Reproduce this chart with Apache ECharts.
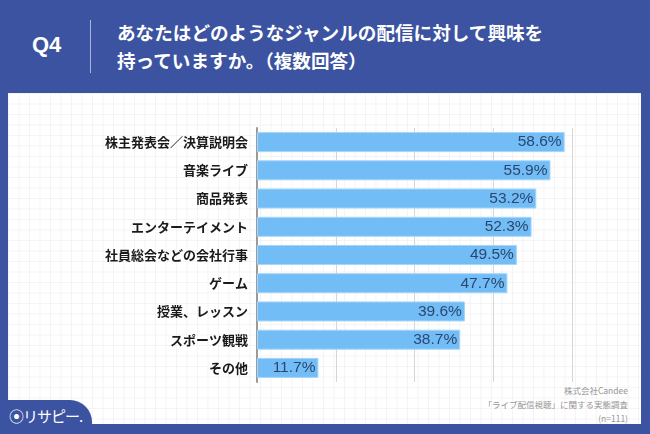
<!DOCTYPE html>
<html>
<head>
<meta charset="utf-8">
<script src="https://cdn.jsdelivr.net/npm/echarts@6/dist/echarts.min.js"></script>
<style>
html,body{margin:0;padding:0;width:650px;height:434px;overflow:hidden;background:#3b53a0;font-family:"Noto Sans CJK JP","Noto Sans",sans-serif;}
#panel{position:absolute;left:8px;top:93px;width:633px;height:331px;background-color:#fff;
background-image:linear-gradient(#f4f4f4 1px,transparent 1px),linear-gradient(90deg,#f4f4f4 1px,transparent 1px);
background-size:10.5px 10.5px;}
#q{position:absolute;left:32px;top:32px;color:#fff;font:bold 22px "Liberation Sans","Noto Sans",sans-serif;}
#div{position:absolute;left:90px;top:20px;width:1px;height:53px;background:#a8b4d8;}
#title{position:absolute;left:117px;top:18px;color:#fff;font-weight:bold;font-size:18.6px;line-height:28px;letter-spacing:0;}
#logo{position:absolute;left:0;top:400px;width:92px;height:34px;background:#3b53a0;border-top-right-radius:22px;}
#logotxt{position:absolute;left:9px;top:405px;color:#fff;font-size:15px;letter-spacing:-1px;}
#src{position:absolute;right:22px;top:383px;color:#959595;font-size:8.5px;line-height:14px;text-align:right;}
#chart{position:absolute;left:0;top:0;width:650px;height:434px;}
</style>
</head>
<body>
<div id="panel"></div>
<div id="q">Q4</div>
<div id="div"></div>
<div id="title">あなたはどのようなジャンルの配信に対して興味を<br>持っていますか。（複数回答）</div>
<div id="src">株式会社Candee<br>「ライブ配信視聴」に関する実態調査<br>(n=111)</div>
<div id="logo"></div>
<div id="logotxt">⦿リサピー.</div>
<div id="chart"></div>
<script>
const categories = ["株主発表会／決算説明会","音楽ライブ","商品発表","エンターテイメント","社員総会などの会社行事","ゲーム","授業、レッスン","スポーツ観戦","その他"];
const values = [58.6,55.9,53.2,52.3,49.5,47.7,39.6,38.7,11.7];
const chart = echarts.init(document.getElementById('chart'));
chart.setOption({
  animation:false,
  grid:{left:257,right:78,top:128,bottom:52},
  xAxis:{type:'value',min:0,max:60,interval:15,axisLabel:{show:false},axisLine:{show:false},axisTick:{show:false},
    splitLine:{lineStyle:{color:'#d6d6d6',width:1}}},
  yAxis:{type:'category',data:categories,inverse:true,
    axisLine:{lineStyle:{color:'#9a9a9a',width:2}},axisTick:{show:false},
    axisLabel:{color:'#1a1a1a',fontWeight:'bold',fontSize:13,margin:9,fontFamily:'"Noto Sans CJK JP",sans-serif'}},
  series:[{type:'bar',data:values,barCategoryGap:'29%',
    itemStyle:{color:'#72bdf6',borderColor:'#a8d6fa',borderWidth:1},
    label:{show:true,position:'insideRight',offset:[2,0],color:'#2b4770',fontSize:15.5,fontFamily:'"Liberation Sans",sans-serif',
      formatter:p=>p.value.toFixed(1)+'%'}}]
});
</script>
</body>
</html>
